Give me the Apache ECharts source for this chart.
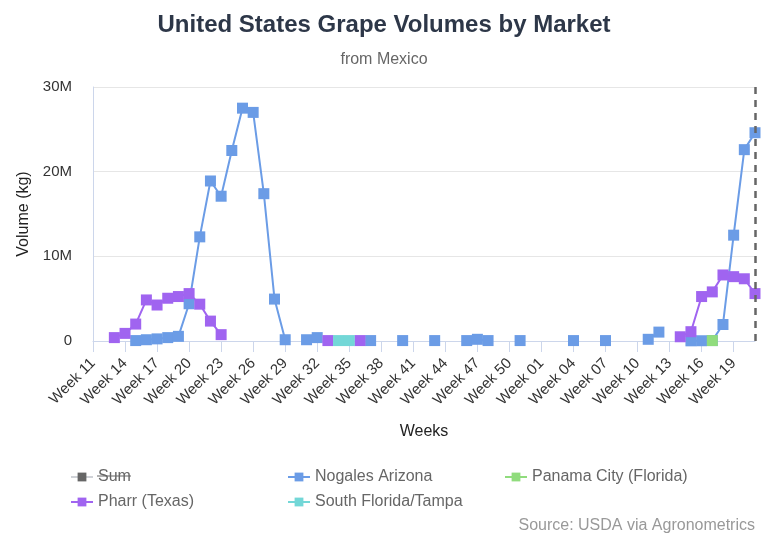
<!DOCTYPE html>
<html>
<head>
<meta charset="utf-8">
<script src="https://cdn.jsdelivr.net/npm/echarts@6/dist/echarts.min.js"></script>
<style>
  html, body { margin: 0; padding: 0; background: #fff; }
  #main { width: 768px; height: 538px; }
</style>
</head>
<body>
<div id="main"></div>
<script>
// Weeks 11..52 of the first season, then 01..21 of the next
const weeks = [
  "Week 11", "Week 12", "Week 13", "Week 14", "Week 15", "Week 16", "Week 17", "Week 18", "Week 19", "Week 20",
  "Week 21", "Week 22", "Week 23", "Week 24", "Week 25", "Week 26", "Week 27", "Week 28", "Week 29", "Week 30",
  "Week 31", "Week 32", "Week 33", "Week 34", "Week 35", "Week 36", "Week 37", "Week 38", "Week 39", "Week 40",
  "Week 41", "Week 42", "Week 43", "Week 44", "Week 45", "Week 46", "Week 47", "Week 48", "Week 49", "Week 50",
  "Week 51", "Week 52", "Week 01", "Week 02", "Week 03", "Week 04", "Week 05", "Week 06", "Week 07", "Week 08",
  "Week 09", "Week 10", "Week 11", "Week 12", "Week 13", "Week 14", "Week 15", "Week 16", "Week 17", "Week 18",
  "Week 19", "Week 20", "Week 21"
];

const nogales = [
  null, null, null, null, 50000, 150000, 250000, 400000, 550000, 4400000,
  12300000, 18900000, 17100000, 22500000, 27500000, 27000000, 17400000, 4950000, 150000, null,
  150000, 400000, null, null, null, null, 50000, null, null, 50000,
  null, null, 50000, null, null, 50000, 200000, 50000, null, null,
  50000, null, null, null, null, 50000, null, null, 50000, null,
  null, null, 200000, 1050000, null, null, 20000, 30000, 50000, 1950000,
  12500000, 22600000, 24600000
];

const panamaCity = [
  null, null, null, null, null, null, null, null, null, null,
  null, null, null, null, null, null, null, null, null, null,
  null, null, null, null, null, null, null, null, null, null,
  null, null, null, null, null, null, null, null, null, null,
  null, null, null, null, null, null, null, null, null, null,
  null, null, null, null, null, null, null, null, 50000, null,
  null, null, null
];

const pharr = [
  null, null, 400000, 900000, 2000000, 4850000, 4250000, 5050000, 5250000, 5600000,
  4350000, 2350000, 750000, null, null, null, null, null, null, null,
  null, null, 50000, null, null, 50000, null, null, null, null,
  null, null, null, null, null, null, null, null, null, null,
  null, null, null, null, null, null, null, null, null, null,
  null, null, null, null, null, 500000, 1100000, 5250000, 5800000, 7800000,
  7600000, 7350000, 5600000
];

const southFlorida = [
  null, null, null, null, null, null, null, null, null, null,
  null, null, null, null, null, null, null, null, null, null,
  null, null, null, 50000, 50000, null, null, null, null, null,
  null, null, null, null, null, null, null, null, null, null,
  null, null, null, null, null, null, null, null, null, null,
  null, null, null, null, null, null, null, null, null, null,
  null, null, null
];

// total across markets, hidden in the legend like the original
const sum = weeks.map((w, i) => {
  const vals = [nogales[i], panamaCity[i], pharr[i], southFlorida[i]].filter(v => v != null);
  return vals.length ? vals.reduce((a, b) => a + b, 0) : null;
});

const FONT = "Liberation Sans, Arial, sans-serif";

function lineSeries(name, data, color) {
  return {
    name: name,
    type: 'line',
    data: data,
    color: color,
    symbol: 'rect',
    symbolSize: 11,
    showSymbol: true,
    showAllSymbol: true,
    connectNulls: false,
    lineStyle: { width: 2, color: color },
    itemStyle: { color: color },
    emphasis: { disabled: true }
  };
}

const chart = echarts.init(document.getElementById('main'));

const nogalesSeries = lineSeries('Nogales Arizona', nogales, '#6b9ce6');
nogalesSeries.markLine = {
  silent: true,
  symbol: 'none',
  label: { show: false },
  lineStyle: { type: [7, 6], color: '#666', width: 2.5 },
  data: [{ xAxis: weeks.length - 1 }]
};

const legendText = { fontSize: 16, color: '#666', fontFamily: FONT };

const option = {
  animation: false,
  textStyle: { fontFamily: FONT },
  title: [
    {
      text: 'United States Grape Volumes by Market',
      left: 'center',
      top: 8,
      textStyle: { fontSize: 24, fontWeight: 'bold', color: '#2d3748', fontFamily: FONT }
    },
    {
      text: 'from Mexico',
      left: 'center',
      top: 47,
      textStyle: { fontSize: 16, fontWeight: 'normal', color: '#666', fontFamily: FONT }
    }
  ],
  legend: [
    {
      orient: 'vertical', left: 65, top: 464, itemGap: 9,
      itemWidth: 22, itemHeight: 11,
      data: ['Sum', 'Pharr (Texas)'],
      selected: { 'Sum': false },
      inactiveColor: '#666',
      textStyle: legendText
    },
    {
      orient: 'vertical', left: 282, top: 464, itemGap: 9,
      itemWidth: 22, itemHeight: 11,
      data: ['Nogales Arizona', 'South Florida/Tampa'],
      textStyle: legendText
    },
    {
      orient: 'vertical', left: 499, top: 464, itemGap: 9,
      itemWidth: 22, itemHeight: 11,
      data: ['Panama City (Florida)'],
      textStyle: legendText
    }
  ],
  grid: { left: 93, right: 13, top: 87, bottom: 197, containLabel: false },
  xAxis: {
    type: 'category',
    data: weeks,
    boundaryGap: false,
    name: 'Weeks',
    nameLocation: 'middle',
    nameGap: 83,
    nameTextStyle: { fontSize: 16, color: '#222' },
    axisLine: { lineStyle: { color: '#ccd6eb', width: 1 } },
    axisTick: { show: true, interval: 2, length: 11, lineStyle: { color: '#ccd6eb' } },
    axisLabel: { interval: 2, rotate: 45, fontSize: 15, color: '#333', margin: 20 },
    splitLine: { show: false }
  },
  yAxis: {
    type: 'value',
    min: 0,
    max: 30000000,
    interval: 10000000,
    name: 'Volume (kg)',
    nameLocation: 'middle',
    nameGap: 51,
    nameTextStyle: { fontSize: 16, color: '#222' },
    axisLine: { show: true, lineStyle: { color: '#ccd6eb' } },
    axisTick: { show: false },
    axisLabel: {
      fontSize: 15, color: '#333', margin: 21,
      formatter: v => v === 0 ? '0' : (v / 1000000) + 'M'
    },
    splitLine: { lineStyle: { color: '#e6e6e6' } }
  },
  graphic: [
    {
      // strike-through on the hidden "Sum" legend entry
      type: 'line',
      shape: { x1: 97, y1: 476, x2: 131, y2: 476 },
      style: { stroke: '#666', lineWidth: 1.2 },
      silent: true, z: 100
    },
    {
      type: 'text',
      right: 13,
      top: 518,
      style: { text: 'Source: USDA via Agronometrics', fontSize: 16, fill: '#999', font: '16px ' + FONT }
    }
  ],
  series: [
    lineSeries('Sum', sum, '#666'),
    nogalesSeries,
    lineSeries('Panama City (Florida)', panamaCity, '#90dc7d'),
    lineSeries('Pharr (Texas)', pharr, '#a064f0'),
    lineSeries('South Florida/Tampa', southFlorida, '#73d7d7')
  ]
};

chart.setOption(option);
</script>
</body>
</html>
